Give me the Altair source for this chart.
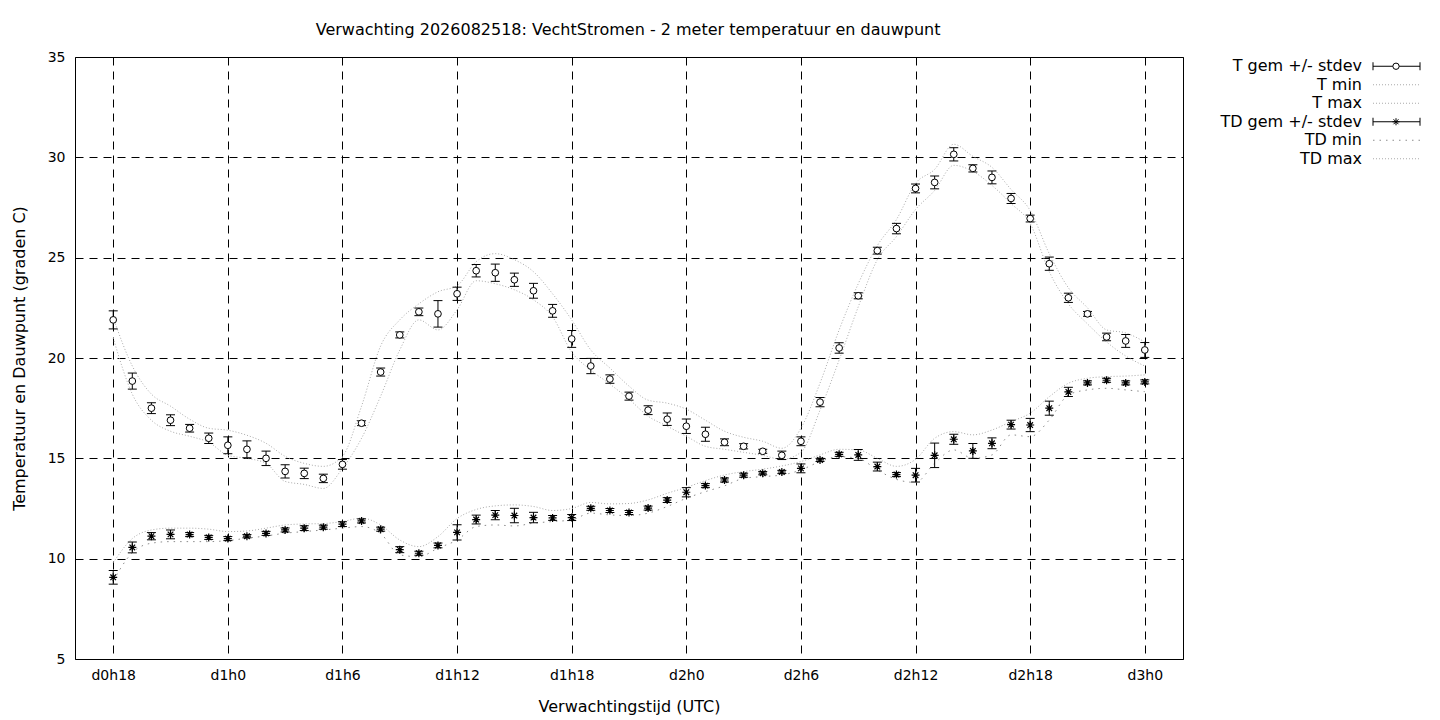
import altair as alt
import pandas as pd

# forecast hours (d0h18 .. d3h0)
hours = list(range(18, 73))

tick_hours = [18, 24, 30, 36, 42, 48, 54, 60, 66, 72]
tick_labels = ['d0h18', 'd1h0', 'd1h6', 'd1h12', 'd1h18',
               'd2h0', 'd2h6', 'd2h12', 'd2h18', 'd3h0']
y_ticks = [5, 10, 15, 20, 25, 30, 35]

# 2 m temperature
t_mean = [21.9, 18.85, 17.5, 16.9, 16.5, 16.0, 15.65, 15.45, 15.0, 14.35,
          14.25, 14.0, 14.7, 16.75, 19.3, 21.15, 22.3, 22.2, 23.2, 24.35,
          24.25, 23.9, 23.35, 22.35, 20.95, 19.6, 18.95, 18.1, 17.4, 16.95,
          16.6, 16.2, 15.8, 15.6, 15.35, 15.15, 15.85, 17.8, 20.5, 23.1,
          25.35, 26.45, 28.45, 28.75, 30.15, 29.45, 29.0, 27.95, 26.95, 24.7,
          23.0, 22.2, 21.05, 20.85, 20.4]
t_sd = [0.45, 0.40, 0.27, 0.27, 0.19, 0.26, 0.42, 0.42, 0.36, 0.33,
        0.26, 0.21, 0.24, 0.12, 0.20, 0.15, 0.19, 0.66, 0.33, 0.31,
        0.43, 0.33, 0.37, 0.32, 0.42, 0.38, 0.21, 0.20, 0.22, 0.31,
        0.36, 0.35, 0.17, 0.13, 0.10, 0.21, 0.22, 0.23, 0.26, 0.15,
        0.17, 0.26, 0.22, 0.32, 0.33, 0.18, 0.32, 0.25, 0.17, 0.33,
        0.23, 0.12, 0.19, 0.32, 0.37]
t_min = [21.0, 18.2, 16.9, 16.35, 16.1, 15.8, 15.15, 15.0, 14.75, 13.85,
         13.7, 13.5, 14.5, 16.0, 18.1, 20.4, 21.9, 21.4, 22.4, 23.85,
         23.7, 23.4, 22.9, 22.05, 20.3, 19.4, 18.7, 17.95, 17.1, 16.6,
         16.1, 15.6, 15.45, 15.3, 15.15, 14.95, 15.3, 17.4, 19.9, 22.55,
         24.9, 26.05, 27.4, 28.35, 29.6, 29.3, 28.6, 27.7, 26.7, 24.3,
         22.7, 21.7, 20.8, 20.1, 19.6]
t_max = [22.0, 19.6, 18.2, 17.6, 16.95, 16.5, 16.4, 16.15, 15.75, 15.1,
         14.75, 14.6, 15.1, 17.6, 20.6, 21.9, 22.7, 23.3, 23.6, 24.8,
         25.2, 24.9, 24.3, 23.2, 21.9, 20.4, 19.5, 18.6, 17.9, 17.75,
         17.45, 16.9, 16.35, 16.05, 15.85, 15.5, 16.5, 18.75, 21.4, 23.7,
         25.6, 26.9, 28.7, 29.4, 30.65, 30.05, 29.5, 28.4, 27.35, 25.2,
         23.5, 22.5, 21.4, 21.25, 20.8]

# dew point
td_mean = [9.07, 10.56, 11.12, 11.21, 11.2, 11.06, 11.0, 11.12, 11.26, 11.43,
           11.52, 11.57, 11.72, 11.88, 11.47, 10.45, 10.27, 10.66, 11.31, 11.95,
           12.17, 12.15, 12.05, 12.03, 12.05, 12.51, 12.4, 12.3, 12.52, 12.92,
           13.31, 13.64, 13.92, 14.16, 14.26, 14.32, 14.5, 14.92, 15.2, 15.17,
           14.59, 14.19, 14.16, 15.15, 15.95, 15.37, 15.75, 16.68, 16.66, 17.5,
           18.31, 18.76, 18.89, 18.76, 18.81]
td_sd = [0.34, 0.27, 0.18, 0.22, 0.10, 0.10, 0.10, 0.08, 0.10, 0.10,
         0.12, 0.10, 0.12, 0.10, 0.10, 0.15, 0.10, 0.12, 0.38, 0.22,
         0.23, 0.36, 0.26, 0.12, 0.15, 0.10, 0.10, 0.10, 0.10, 0.12,
         0.23, 0.10, 0.10, 0.10, 0.08, 0.08, 0.22, 0.08, 0.10, 0.27,
         0.22, 0.10, 0.34, 0.61, 0.25, 0.37, 0.27, 0.22, 0.33, 0.35,
         0.23, 0.10, 0.10, 0.10, 0.10]
td_min = [8.9, 10.3, 10.77, 10.85, 10.85, 10.85, 10.9, 11.02, 11.13, 11.27,
          11.35, 11.43, 11.52, 11.6, 11.25, 10.19, 10.1, 10.52, 10.93, 11.6,
          11.68, 11.63, 11.77, 11.85, 11.93, 12.27, 12.18, 12.15, 12.27, 12.6,
          13.01, 13.34, 13.63, 14.0, 14.09, 14.17, 14.42, 14.84, 15.08, 15.0,
          14.42, 13.95, 13.8, 14.76, 15.42, 15.0, 15.17, 16.17, 16.08, 16.91,
          18.16, 18.41, 18.49, 18.41, 18.32]
td_max = [9.8, 11.0, 11.43, 11.52, 11.52, 11.47, 11.35, 11.38, 11.52, 11.68,
          11.73, 11.75, 11.85, 12.02, 11.68, 10.93, 10.6, 11.1, 12.0, 12.45,
          12.63, 12.68, 12.6, 12.4, 12.5, 12.8, 12.73, 12.75, 12.93, 13.26,
          13.55, 13.89, 14.17, 14.34, 14.46, 14.62, 14.84, 15.17, 15.45, 15.42,
          15.0, 14.6, 14.95, 16.0, 16.33, 16.17, 16.41, 16.83, 17.25, 18.07,
          18.74, 18.99, 19.07, 19.1, 19.16]

legend_labels = ['T gem +/- stdev', 'T min', 'T max',
                 'TD gem +/- stdev', 'TD min', 'TD max']

FONT = 'DejaVu Sans'
ASTERISK = 'M-1,0L1,0M0,-1L0,1M-0.7,-0.7L0.7,0.7M-0.7,0.7L0.7,-0.7'

df = pd.DataFrame({'hour': hours,
                   't_mean': t_mean, 't_sd': t_sd, 't_min': t_min, 't_max': t_max,
                   'td_mean': td_mean, 'td_sd': td_sd, 'td_min': td_min, 'td_max': td_max})
df['t_lo'] = df.t_mean - df.t_sd
df['t_hi'] = df.t_mean + df.t_sd
df['td_lo'] = df.td_mean - df.td_sd
df['td_hi'] = df.td_mean + df.td_sd

label_expr = ' : '.join(f"datum.value == {h} ? '{l}'" for h, l in zip(tick_hours, tick_labels)) + " : ''"

x_enc = alt.X('hour:Q',
              scale=alt.Scale(domain=[16, 74], nice=False, zero=False),
              axis=alt.Axis(values=tick_hours, labelExpr=label_expr,
                            title='Verwachtingstijd (UTC)',
                            labelPadding=9, titlePadding=16))
y_scale = alt.Scale(domain=[5, 35], nice=False, zero=False)
y_axis = alt.Axis(values=y_ticks, title='Temperatuur en Dauwpunt (graden C)',
                  labelPadding=10, titlePadding=20)

base = alt.Chart(df)

# min / max envelopes
series = ['t_min', 't_max', 'td_min', 'td_max']
envelopes = base.transform_fold(series, as_=['series', 'value']).mark_line(
    interpolate='monotone', strokeWidth=1).encode(
    x=x_enc,
    y=alt.Y('value:Q', scale=y_scale, axis=y_axis),
    detail='series:N',
    color=alt.Color('series:N', legend=None,
                    scale=alt.Scale(domain=series, range=['#aaaaaa', '#aaaaaa', '#8c8c8c', '#aaaaaa'])),
    strokeDash=alt.StrokeDash('series:N', legend=None,
                              scale=alt.Scale(domain=series, range=[[1, 2], [1, 2], [1.5, 5], [1, 2]]))
)

# error bars
t_bars = base.mark_rule(color='black', strokeWidth=1).encode(
    x=x_enc, y=alt.Y('t_lo:Q', scale=y_scale, axis=y_axis), y2='t_hi:Q')
td_bars = base.mark_rule(color='black', strokeWidth=1).encode(
    x=x_enc, y=alt.Y('td_lo:Q', scale=y_scale, axis=y_axis), y2='td_hi:Q')
caps = base.transform_fold(['t_lo', 't_hi', 'td_lo', 'td_hi'], as_=['end', 'value']).mark_tick(
    orient='horizontal', size=9, thickness=1, color='black', opacity=1).encode(
    x=x_enc, y=alt.Y('value:Q', scale=y_scale, axis=y_axis))

# markers
t_pts = base.mark_point(shape='circle', size=45, filled=True, fill='white',
                        stroke='black', strokeWidth=1, opacity=1).encode(
    x=x_enc, y=alt.Y('t_mean:Q', scale=y_scale, axis=y_axis))
td_pts = base.mark_point(shape=ASTERISK, size=64, filled=False, color='black',
                         strokeWidth=1.2, opacity=1).encode(
    x=x_enc, y=alt.Y('td_mean:Q', scale=y_scale, axis=y_axis))

main = alt.layer(envelopes, t_bars, td_bars, caps, t_pts, td_pts).properties(
    width=1108, height=602)

# legend, gnuplot style (symbol right of the text)
leg = alt.Chart(pd.DataFrame({'label': legend_labels}))
ly = alt.Y('label:N', sort=legend_labels, axis=None, scale=alt.Scale(type='point', padding=0.5))
err_rows = ['T gem +/- stdev', 'TD gem +/- stdev']
dot_rows = ['T min', 'T max', 'TD min', 'TD max']

leg_text = leg.mark_text(align='right', baseline='middle', font=FONT, fontSize=16,
                         color='black').encode(y=ly, x=alt.value(167), text='label:N')
leg_err = leg.transform_filter(alt.FieldOneOfPredicate(field='label', oneOf=err_rows)).mark_rule(
    color='black', strokeWidth=1).encode(y=ly, x=alt.value(178), x2=alt.value(225))
leg_cap_l = leg.transform_filter(alt.FieldOneOfPredicate(field='label', oneOf=err_rows)).mark_tick(
    orient='vertical', size=8, thickness=1, color='black', opacity=1).encode(y=ly, x=alt.value(178))
leg_cap_r = leg.transform_filter(alt.FieldOneOfPredicate(field='label', oneOf=err_rows)).mark_tick(
    orient='vertical', size=8, thickness=1, color='black', opacity=1).encode(y=ly, x=alt.value(225))
leg_circle = leg.transform_filter(alt.datum.label == 'T gem +/- stdev').mark_point(
    shape='circle', size=40, filled=True, fill='white', stroke='black', strokeWidth=1,
    opacity=1).encode(y=ly, x=alt.value(201))
leg_star = leg.transform_filter(alt.datum.label == 'TD gem +/- stdev').mark_point(
    shape=ASTERISK, size=50, filled=False, color='black', strokeWidth=1,
    opacity=1).encode(y=ly, x=alt.value(201))
leg_dots = leg.transform_filter(alt.FieldOneOfPredicate(field='label', oneOf=dot_rows)).mark_rule(
    strokeWidth=1).encode(
    y=ly, x=alt.value(178), x2=alt.value(225),
    color=alt.Color('label:N', legend=None,
                    scale=alt.Scale(domain=dot_rows, range=['#aaaaaa', '#aaaaaa', '#8c8c8c', '#aaaaaa'])),
    strokeDash=alt.StrokeDash('label:N', legend=None,
                              scale=alt.Scale(domain=dot_rows, range=[[1, 2], [1, 2], [1.5, 5], [1, 2]])))

legend = alt.layer(leg_text, leg_err, leg_cap_l, leg_cap_r, leg_circle, leg_star, leg_dots).properties(
    width=230, height=111, view=alt.ViewBackground(stroke='transparent'))

chart = alt.hconcat(main, legend, spacing=10).properties(
    title=alt.Title('Verwachting 2026082518: VechtStromen - 2 meter temperatuur en dauwpunt',
                    anchor='middle', dx=-90, offset=12),
    padding={'left': 2, 'top': 13, 'right': 5, 'bottom': 5}
).configure_view(
    stroke='black', strokeWidth=1
).configure_axis(
    labelFont=FONT, titleFont=FONT, labelFontSize=14, titleFontSize=16,
    labelColor='black', titleColor='black', titleFontWeight='normal',
    grid=True, gridColor='black', gridDash=[8, 6], gridOpacity=1, gridWidth=1,
    ticks=False, domain=False
).configure_title(
    font=FONT, fontSize=16, fontWeight='normal', color='black'
)

chart.save('out.html', embed_options={'renderer': 'svg', 'actions': False})
